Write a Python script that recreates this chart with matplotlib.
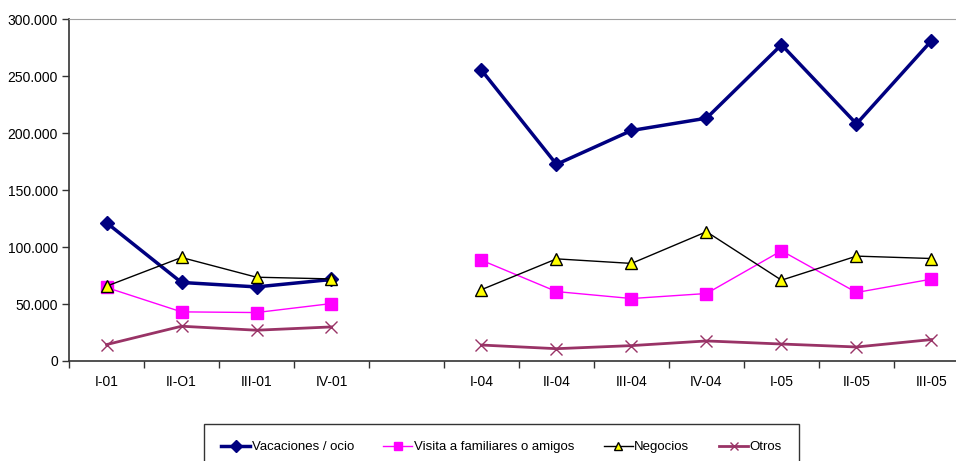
import numpy as np
import matplotlib.pyplot as plt
from matplotlib.ticker import FuncFormatter, FixedLocator

plt.rcParams['font.family'] = ['Liberation Sans', 'DejaVu Sans']

# Quarters (one empty slot between 2001 and 2004)
quarters = ['I-01', 'II-O1', 'III-01', 'IV-01', '',
            'I-04', 'II-04', 'III-04', 'IV-04', 'I-05', 'II-05', 'III-05']

nan = np.nan
vacaciones = [121300, 68900, 65000, 71500, nan,
              255100, 172500, 202200, 213000, 277400, 208000, 281000]
visita = [64500, 43100, 42500, 50400, nan,
          88400, 60900, 54800, 59200, 96700, 60100, 71800]
negocios = [65600, 90800, 73500, 72000, nan,
            62600, 89600, 85600, 113400, 70900, 92000, 89900]
otros = [14400, 30500, 27000, 29900, nan,
         14000, 10800, 13500, 17600, 14900, 12300, 18800]

x = np.arange(len(quarters))

fig = plt.figure(figsize=(9.56, 4.61), dpi=100)
# plot area runs past the right edge of the picture, like the original
ax = fig.add_axes([69 / 956, 1 - 361 / 461, 900 / 956, 342 / 461])

ax.plot(x, vacaciones, color='#000080', lw=2.5, marker='D', ms=7.5,
        label='Vacaciones / ocio')
ax.plot(x, visita, color='#FF00FF', lw=1, marker='s', ms=9,
        label='Visita a familiares o amigos')
ax.plot(x, negocios, color='black', lw=1, marker='^', ms=9,
        markerfacecolor='#FFFF00', markeredgecolor='black', mew=1,
        label='Negocios')
ax.plot(x, otros, color='#993366', lw=2, marker='x', ms=9, mew=1,
        label='Otros')

ax.set_xlim(-0.5, len(quarters) - 0.5)
ax.set_ylim(0, 300000)
ax.set_yticks(np.arange(0, 300001, 50000))
ax.yaxis.set_major_formatter(FuncFormatter(
    lambda v, p: '0' if v == 0 else f'{int(v):,}'.replace(',', '.')))

ax.set_xticks(x)
ax.set_xticklabels(quarters)
ax.xaxis.set_minor_locator(FixedLocator(np.arange(-0.5, len(quarters), 1)))
ax.tick_params(axis='x', which='major', length=0, pad=10, labelsize=10)
ax.tick_params(axis='x', which='minor', length=5, width=1, color='#333333')
ax.tick_params(axis='y', length=5, width=1, color='#333333', labelsize=10, pad=3)

for s in ['left', 'bottom']:
    ax.spines[s].set_color('#333333')
    ax.spines[s].set_linewidth(1.2)
ax.spines['top'].set_color('#A0A0A0')
ax.spines['right'].set_visible(False)

leg = fig.legend(loc='upper left', bbox_to_anchor=(204 / 956, 1 - 424 / 461),
                 ncol=4, fontsize=9.5, frameon=True, fancybox=False,
                 edgecolor='black', handlelength=2.2, handletextpad=0.1,
                 columnspacing=2.25, borderpad=1.3, borderaxespad=0)
leg.get_frame().set_linewidth(1)
for h in leg.legend_handles:
    h.set_markersize(6)

plt.savefig('out.png', dpi=100)
